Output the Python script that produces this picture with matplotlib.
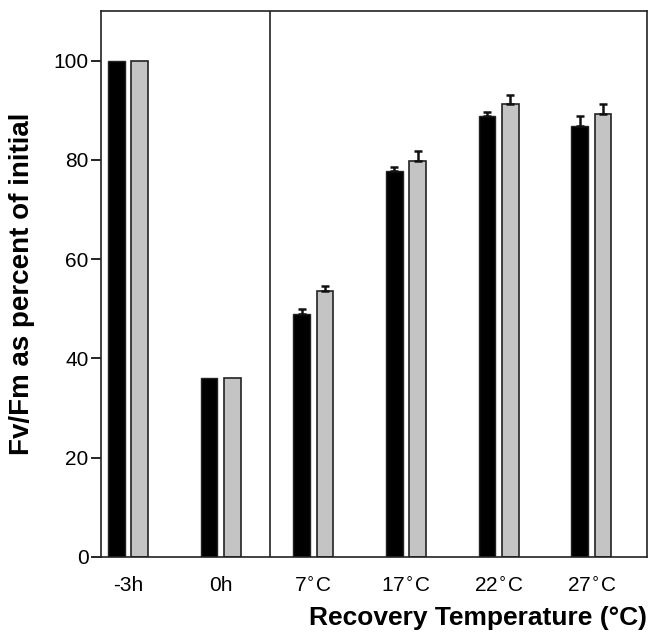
import numpy as np
import matplotlib.pyplot as plt

plt.rcParams['font.family'] = ['Liberation Sans', 'DejaVu Sans']

labels = ['-3h', '0h', '7$^{\\circ}$C', '17$^{\\circ}$C', '22$^{\\circ}$C', '27$^{\\circ}$C']
black_vals = [100, 36, 49, 77.8, 88.9, 86.9]
black_err = [0, 0, 1.0, 0.8, 0.8, 2.0]
gray_vals = [100, 36, 53.6, 79.8, 91.3, 89.3]
gray_err = [0, 0, 1.0, 2.0, 1.8, 2.0]

x = np.arange(len(labels))
w = 0.18
off = 0.125

fig = plt.figure(figsize=(6.49, 6.37), dpi=100)
ax = fig.add_axes([0.1556, 0.1256, 0.8414, 0.8571])

ax.bar(x - off, black_vals, w, color='black', edgecolor='#222222', linewidth=1.0, zorder=2)
ax.bar(x + off, gray_vals, w, color='#c4c4c4', edgecolor='#222222', linewidth=1.2, zorder=2)

# one-sided error bars, only where there is an error
for xs, vals, errs in [(x - off, black_vals, black_err), (x + off, gray_vals, gray_err)]:
    vals = np.array(vals)
    errs = np.array(errs)
    m = errs > 0
    ax.errorbar(xs[m], vals[m], yerr=[np.zeros(m.sum()), errs[m]], fmt='none',
                ecolor='#111111', elinewidth=1.8, capsize=3, capthick=1.8, zorder=3)

ax.axvline(1.53, color='#222222', linewidth=1.2)

ax.set_xlim(-0.29, 5.6)
ax.set_ylim(0, 110)
ax.set_yticks([0, 20, 40, 60, 80, 100])
ax.set_xticks(x)
ax.set_xticklabels(labels, fontsize=15)
ax.tick_params(axis='x', length=0, pad=14)
ax.tick_params(axis='y', labelsize=15, length=7, width=1.2, pad=2)
for s in ax.spines.values():
    s.set_linewidth(1.2)
    s.set_color('#222222')

ax.set_ylabel('Fv/Fm as percent of initial', fontsize=20, fontweight='bold', labelpad=13)
ax.set_xlabel('Recovery Temperature (°C)', fontsize=19, fontweight='bold', loc='right', labelpad=7)

fig.savefig('out.png', dpi=100)
